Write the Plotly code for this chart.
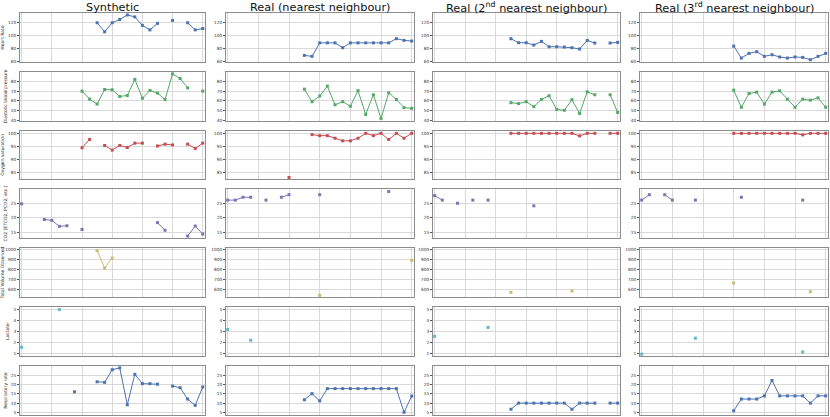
import plotly.graph_objects as go
from plotly.subplots import make_subplots

N = None
steps = list(range(25))

col_titles = ["Synthetic", "Real (nearest neighbour)",
              "Real (2<sup>nd</sup> nearest neighbour)",
              "Real (3<sup>rd</sup> nearest neighbour)"]
row_labels = ["Heart Rate", "Diastolic blood pressure", "Oxygen saturation",
              "CO2 (ETCO2, PCO2, etc.)", "Total Volume Observed", "Lactate",
              "Respiratory rate"]
row_colors = ["#4C72B0", "#55A868", "#C44E52", "#8172B2", "#CCB974", "#64B5CD", "#4C72B0"]

# y-axis ranges and ticks per row
y_ranges = [[58.5, 134], [39.6, 89.5], [82.3, 100.9], [12.9, 30.1],
            [519, 1017], [0.75, 5.24], [3.6, 30.0]]
y_ticks = [[60, 80, 100, 120], [40, 50, 60, 70, 80], [85, 90, 95, 100],
           [15, 20, 25], [600, 700, 800, 900, 1000], [1, 2, 3, 4, 5],
           [5, 10, 15, 20, 25]]

# heart rate
hr_syn = [N]*10 + [119, 105, 119, 124, 131, 128, 115, 108, 118, N, 122.6, N, 119, 108, 110]
hr_nn1 = [N]*10 + [68.7, 67.2, 88, 88, 88, 80.5, 88, 88, 88, 88, 88, 88, 94.4, 91.8, 90.8]
hr_nn2 = [N]*10 + [94.4, 88.2, 88.2, 84.6, 90.3, 82, 82, 81.5, 80.5, 78.5, 91.8, 87.7, N, 87.7, 88.7]
hr_nn3 = [N]*12 + [83, 64.6, 71.8, 74.4, 67.2, 69.7, 66.2, 64.6, 66.2, 65.6, 62, 67.2, 71.8]

# diastolic blood pressure
dbp_syn = [N]*8 + [70, 61.9, 56.8, 71.7, 71.4, 64.6, 65.6, 82, 62.7, 70.7, 68, 61.5, 87.6, 82.9, 73.4, N, 70]
dbp_nn1 = [N]*10 + [72, 59.3, 65, 75.1, 56.1, 59.3, 54.6, 70.5, 46.3, 66.3, 42.2, 68.3, 61.5, 53.2, 52.5]
dbp_nn2 = [N]*10 + [58.3, 57.3, 59.3, 54.2, 61.5, 65.3, 51.4, 50.5, 61.3, 47.3, 69.3, 66.3, N, 66.3, 48.3]
dbp_nn3 = [N]*12 + [71, 53.6, 67.6, 69, 56.8, 69, 70.3, 61.8, 53.6, 61.8, 60.8, 63.2, 53.6]

# oxygen saturation
o2_syn = [N]*8 + [94.4, 97.6, N, 95.3, 93.5, 95.3, 94.5, 96.2, 96.2, N, 95.1, 95.8, 95.5, N, 95.8, 94.1, 96.2]
o2_nn1 = [N]*8 + [82.9, N, N, 99.5, 99.1, 99.1, 98.1, 97.1, 97.1, 98.1, 100, 99.1, 100, 97.6, 100, 98.1, 100]
o2_nn2 = [N]*10 + [100, 100, 100, 100, 100, 100, 100, 100, 100, 99, 100, 100, N, 100, 100]
o2_nn3 = [N]*12 + [100, 100, 100, 100, 100, 100, 100, 100, 100, 99.4, 100, 100, 100]

# CO2
co2_syn = [24.9, N, N, 19.4, 19.1, 17, 17.2, N, 15.9] + [N]*9 + [18.3, 15.6, N, N, 13.6, 17.1, 14.3]
co2_nn1 = [26.2, 26.2, 27.2, 27.2, N, 26.2, N, 27.2, 28.1, N, N, N, 28.1] + [N]*8 + [29.2, N, N, N]
co2_nn2 = [27.8, 26.2, N, 25.1, N, 26.2, N, 26.2] + [N]*5 + [24.2] + [N]*11
co2_nn3 = [26.2, 28.1, N, 28.1, 26.2, N, N, 26.2] + [N]*5 + [27.2] + [N]*7 + [26.2, N, N, N]

# total volume observed
vol_syn = [N]*10 + [990, 813, 915] + [N]*12
vol_nn1 = [N]*12 + [536] + [N]*11 + [891]
vol_nn2 = [N]*10 + [566] + [N]*7 + [580] + [N]*6
vol_nn3 = [N]*12 + [661] + [N]*9 + [573, N, N]

# lactate
lac_syn = [1.55, N, N, N, N, 5.0] + [N]*19
lac_nn1 = [3.18, N, N, 2.2] + [N]*21
lac_nn2 = [2.55] + [N]*6 + [3.37] + [N]*17
lac_nn3 = [0.92] + [N]*6 + [2.38] + [N]*13 + [1.12, N, N, N]

# respiratory rate
rr_syn = [N]*7 + [16.1, N, N, 21.5, 21.2, 28, 29, 9.1, 25.5, 20.5, 20.5, 20.2, N, 19.2, 18.3, 12.2, 8.8, 18.7]
rr_nn1 = [N]*10 + [11.8, 15.1, 11.2] + [17.8]*10 + [5.1, 13.8]
rr_nn2 = [N]*10 + [6.7, 10, 10, 10, 10, 10, 10, 10, 6.7, 10, 10, 10, N, 10, 10]
rr_nn3 = [N]*12 + [5.9, 12.2, 12.2, 12.2, 13.9, 22.2, 13.9, 13.9, 13.9, 13.9, 10, 13.9, 13.9]

series = [
    [hr_syn, hr_nn1, hr_nn2, hr_nn3],
    [dbp_syn, dbp_nn1, dbp_nn2, dbp_nn3],
    [o2_syn, o2_nn1, o2_nn2, o2_nn3],
    [co2_syn, co2_nn1, co2_nn2, co2_nn3],
    [vol_syn, vol_nn1, vol_nn2, vol_nn3],
    [lac_syn, lac_nn1, lac_nn2, lac_nn3],
    [rr_syn, rr_nn1, rr_nn2, rr_nn3],
]

W, H = 830, 417
col_px = [(20, 205), (226, 414), (433, 620), (640, 828)]
row_px = [(13, 62), (72, 121), (131, 179), (189, 238), (248, 297), (307, 356), (366, 415)]

fig = make_subplots(rows=7, cols=4)

for r in range(7):
    for c in range(4):
        fig.add_trace(go.Scatter(
            x=steps, y=series[r][c], mode="lines+markers",
            line=dict(color=row_colors[r], width=1),
            marker=dict(symbol="square", size=3, color=row_colors[r], line=dict(width=0)),
            connectgaps=False, showlegend=False, cliponaxis=False), row=r + 1, col=c + 1)
        n = r * 4 + c + 1
        xa = "xaxis" if n == 1 else f"xaxis{n}"
        ya = "yaxis" if n == 1 else f"yaxis{n}"
        x0, x1 = col_px[c]
        y0, y1 = row_px[r]
        fig.layout[xa].update(
            domain=[x0 / W, x1 / W], range=[-0.22, 24.3], automargin=False,
            tickvals=[0, 4, 8, 12, 16, 20, 24], showticklabels=False,
            showgrid=True, gridcolor="#d9d9d9", gridwidth=1, zeroline=False,
            showline=True, mirror=True, linecolor="#8c8c8c", linewidth=1)
        fig.layout[ya].update(
            domain=[1 - y1 / H, 1 - y0 / H], range=y_ranges[r], automargin=False,
            tickvals=y_ticks[r], ticks="outside", ticklen=2, tickcolor="#555",
            tickfont=dict(size=4.3, color="#333"),
            showgrid=True, gridcolor="#d9d9d9", gridwidth=1, zeroline=False,
            showline=True, mirror=True, linecolor="#8c8c8c", linewidth=1)
        if c == 0:
            fig.layout[ya].update(title=dict(text=row_labels[r], font=dict(size=4.5, color="#222"),
                                             standoff=3))

for c, t in enumerate(col_titles):
    x0, x1 = col_px[c]
    fig.add_annotation(text=t, x=(x0 + x1) / 2 / W, y=1 - 7.5 / H, xref="paper", yref="paper",
                       xanchor="center", yanchor="middle", showarrow=False,
                       font=dict(size=11.3, color="#111"))

fig.update_layout(width=W, height=H, margin=dict(l=0, r=0, t=0, b=0),
                  plot_bgcolor="white", paper_bgcolor="white",
                  font=dict(family="DejaVu Sans"))

# the page body has a default 8px margin; drop it so the figure sits at the corner
fig.write_html("out.html", config={"displayModeBar": False},
               post_script="document.body.style.margin = '0';")
